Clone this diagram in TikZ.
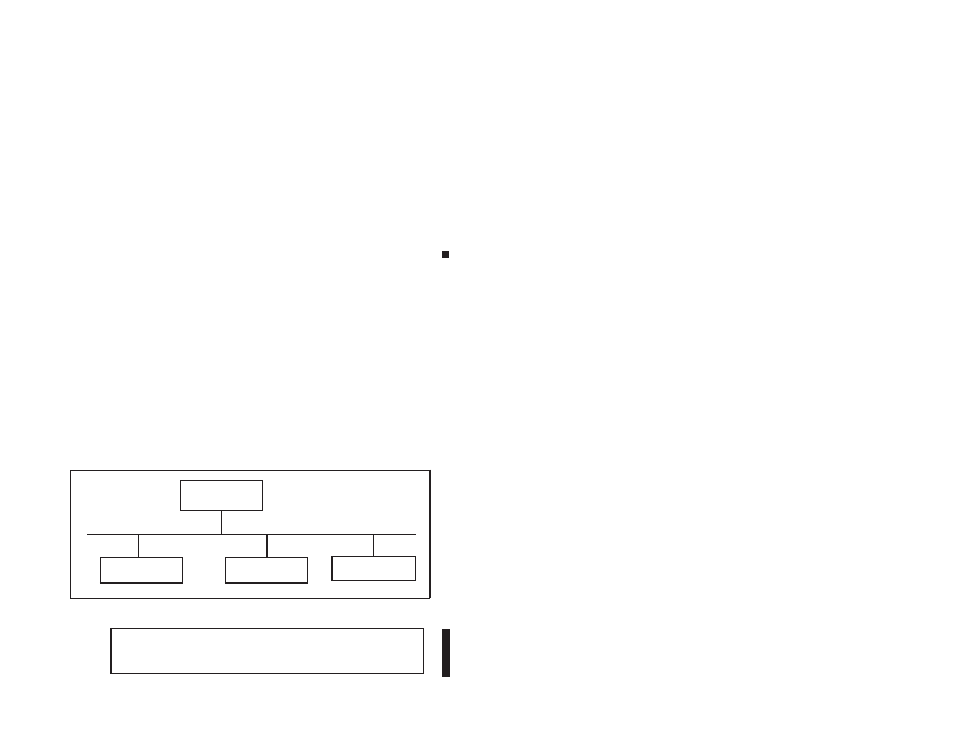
\documentclass[tikz,border=0pt]{standalone}
\usetikzlibrary{calc}
\definecolor{ink}{HTML}{231F20}
\begin{document}
\begin{tikzpicture}[x=1pt,y=-1pt,
  box/.style={draw=ink,line width=0.9pt,inner sep=0pt,minimum width=82pt,minimum height=25pt},
  link/.style={draw=ink,line width=0.9pt},
  heavy/.style={draw=ink,line width=1.7pt}]
\useasboundingbox[fill=white] (0,0) rectangle (954,737);
% outer frame
\node[draw=ink,line width=0.9pt,inner sep=0pt,minimum width=359pt,minimum height=128pt] (frame) at (249.7,534) {};
\draw[heavy] (frame.north east) -- (frame.south east);
% top box
\node[box,minimum height=30pt] (top) at (221,495) {};
% children
\node[box] (c1) at (141.3,569.7) {};
\node[box] (c2) at (266.3,569.7) {};
\node[box,minimum width=83pt,minimum height=24pt] (c3) at (374.2,568.3) {};
\draw[heavy] (c1.south west) -- (c1.south east);
\draw[heavy] (c2.south west) -- (c2.south east);
\draw[heavy] (c3.south west) -- (c3.north west);
% bus
\coordinate (busL) at (87,534);
\coordinate (busR) at (415.7,534);
\coordinate (b1) at (138.3,534);
\coordinate (b2) at (267,534);
\coordinate (b3) at (373.3,534);
\draw[link] (busL) -- (busR);
\draw[link] (top.south) -- (top.south |- busL);
\draw[link] (b1) -- (b1 |- c1.north);
\draw[heavy] (b2) -- (b2 |- c2.north);
\draw[link] (b3) -- (b3 |- c3.north);
% bottom box
\node[draw=ink,line width=0.9pt,inner sep=0pt,minimum width=311.6pt,minimum height=45pt] (note) at (267.5,650.8) {};
\draw[heavy] (note.north west) -- (note.south west);
% black bar and small square
\node[fill=ink,inner sep=0pt,minimum width=8pt,minimum height=48pt] (bar) at (446,653) {};
\node[fill=ink,inner sep=0pt,minimum width=7.5pt,minimum height=7.5pt] (sq) at (445.5,254.5) {};
\end{tikzpicture}
\end{document}
